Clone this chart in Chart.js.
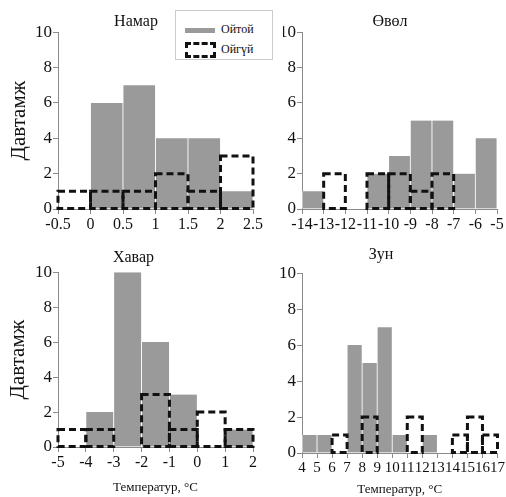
<!DOCTYPE html>
<html>
<head>
<meta charset="utf-8">
<script src="https://cdn.jsdelivr.net/npm/chart.js@4/dist/chart.umd.min.js"></script>
<style>
  body { margin: 0; background: #fff; }
  #wrap { position: relative; width: 506px; height: 497px; }
  #wrap canvas { position: absolute; left: 0; top: 0; }
  #legend {
    position: absolute; left: 175px; top: 10px; width: 96px; height: 48px;
    border: 1px solid #ccc; background: #fff; z-index: 5;
    font-family: "Liberation Serif", serif; font-size: 12px; color: #111;
  }
  #legend .row { position: absolute; left: 9px; height: 16px; line-height: 16px; white-space: nowrap; }
  #legend .sw1 { display: inline-block; width: 30px; height: 5px; background: #9a9a9a; vertical-align: middle; margin-right: 6px; }
  #legend .sw2 { display: inline-block; width: 25px; height: 10px; border: 3px dashed #111; vertical-align: middle; margin-right: 5px; }
</style>
</head>
<body>
<div id="wrap">
  <canvas id="autumn" width="506" height="497"></canvas>
  <canvas id="winter" width="506" height="497"></canvas>
  <canvas id="spring" width="506" height="497"></canvas>
  <canvas id="summer" width="506" height="497"></canvas>
  <div id="legend">
    <div class="row" style="top:10px"><span class="sw1"></span>Ойтой</div>
    <div class="row" style="top:30px"><span class="sw2"></span>Ойгүй</div>
  </div>
</div>
<script>
// lower bin edges, bin counts (Ойтой = gray, Ойгүй = dashed)
const autumnBins = [-0.5, 0, 0.5, 1, 1.5, 2];
const autumnForest = [0, 6, 7, 4, 4, 1];
const autumnOpen = [1, 1, 1, 2, 1, 3];
const autumnTicks = [-0.5, 0, 0.5, 1, 1.5, 2, 2.5];

const winterBins = [-14, -13, -12, -11, -10, -9, -8, -7, -6];
const winterForest = [1, 0, 0, 2, 3, 5, 5, 2, 4];
const winterOpen = [0, 2, 0, 2, 2, 1, 2, 0, 0];
const winterTicks = [-14, -13, -12, -11, -10, -9, -8, -7, -6, -5];

const springBins = [-5, -4, -3, -2, -1, 0, 1];
const springForest = [0, 2, 10, 6, 3, 0, 1];
const springOpen = [1, 1, 0, 3, 1, 2, 1];
const springTicks = [-5, -4, -3, -2, -1, 0, 1, 2];

const summerBins = [4, 5, 6, 7, 8, 9, 10, 11, 12, 13, 14, 15, 16];
const summerForest = [1, 1, 0, 6, 5, 7, 1, 0, 1, 0, 0, 0, 0];
const summerOpen = [0, 0, 1, 0, 2, 0, 0, 2, 0, 0, 1, 2, 1];
const summerTicks = [4, 5, 6, 7, 8, 9, 10, 11, 12, 13, 14, 15, 16, 17];

const yTicks = [0, 2, 4, 6, 8, 10];

const serif = '"Liberation Serif", serif';
const axisGray = '#8a8a8a';
const textColor = '#111';

// Chart.js bars can't have dashed borders, so stroke them here
const dashedBars = {
  id: 'dashedBars',
  afterDatasetsDraw(chart) {
    const ctx = chart.ctx;
    chart.data.datasets.forEach((ds, i) => {
      if (!ds.dashed) return;
      const meta = chart.getDatasetMeta(i);
      ctx.save();
      ctx.setLineDash([7, 4]);
      ctx.lineWidth = 3;
      ctx.strokeStyle = '#111';
      meta.data.forEach((bar, j) => {
        if (!ds.data[j].y) return;
        const p = bar.getProps(['x', 'y', 'base', 'width'], true);
        ctx.strokeRect(p.x - p.width / 2, p.y, p.width, p.base - p.y);
      });
      ctx.restore();
    });
  }
};

function histChart(id, p) {
  const w = p.bins[1] - p.bins[0];
  const centers = p.bins.map(b => b + w / 2);
  new Chart(document.getElementById(id), {
    type: 'bar',
    data: {
      datasets: [{
        label: 'Ойтой',
        data: centers.map((x, i) => ({x: x, y: p.forest[i]})),
        backgroundColor: '#9a9a9a',
        borderColor: '#fff',
        borderWidth: {left: 0.75, right: 0.75, top: 0, bottom: 0},
        grouped: false,
        barPercentage: 1,
        categoryPercentage: 1
      }, {
        label: 'Ойгүй',
        data: centers.map((x, i) => ({x: x, y: p.open[i]})),
        backgroundColor: 'rgba(0,0,0,0)',
        borderWidth: 0,
        grouped: false,
        barPercentage: 1,
        categoryPercentage: 1,
        dashed: true
      }]
    },
    options: {
      responsive: false,
      animation: false,
      layout: {padding: p.pad},
      plugins: {
        legend: {display: false},
        tooltip: {enabled: false},
        title: {
          display: true,
          text: p.title,
          color: textColor,
          font: {family: serif, size: 16, weight: 'normal'},
          padding: {top: 0, bottom: p.titleGap}
        }
      },
      scales: {
        x: {
          type: 'linear',
          min: p.ticks[0],
          max: p.ticks[p.ticks.length - 1],
          offset: false,
          afterBuildTicks: s => { s.ticks = p.ticks.map(v => ({value: v})); },
          afterFit: s => { s.height = p.xh; },
          ticks: {
            autoSkip: false, maxRotation: 0, minRotation: 0, padding: 1,
            color: textColor,
            font: {family: serif, size: p.xFont},
            callback: v => String(v)
          },
          grid: {drawOnChartArea: false, offset: false, tickLength: 5, color: axisGray},
          border: {color: axisGray},
          title: {
            display: p.xTitle,
            text: 'Температур, °C',
            color: textColor,
            font: {family: serif, size: 13},
            padding: {top: 0, bottom: 0}
          }
        },
        y: {
          min: 0,
          max: 10,
          afterBuildTicks: s => { s.ticks = yTicks.map(v => ({value: v})); },
          afterFit: s => { s.width = p.yw; },
          ticks: {padding: 1, color: textColor, font: {family: serif, size: 17}},
          grid: {drawOnChartArea: false, tickLength: 5, color: axisGray},
          border: {color: axisGray},
          title: {
            display: p.yTitle,
            text: 'Давтамж',
            color: textColor,
            font: {family: serif, size: 21, lineHeight: 1},
            padding: {top: p.yTitlePad, bottom: 0}
          }
        }
      }
    },
    plugins: [dashedBars]
  });
}

histChart('autumn', {
  title: 'Намар', bins: autumnBins, forest: autumnForest, open: autumnOpen, ticks: autumnTicks,
  pad: {left: 19, right: 253, top: 12, bottom: 258}, titleGap: 1, yw: 39, xh: 30,
  xFont: 16, xTitle: false, yTitle: true, yTitlePad: -10
});
histChart('winter', {
  title: 'Өвөл', bins: winterBins, forest: winterForest, open: winterOpen, ticks: winterTicks,
  pad: {left: 283, right: 9, top: 12, bottom: 258}, titleGap: 1, yw: 19, xh: 30,
  xFont: 16, xTitle: false, yTitle: false, yTitlePad: 0
});
histChart('spring', {
  title: 'Хавар', bins: springBins, forest: springForest, open: springOpen, ticks: springTicks,
  pad: {left: 14, right: 253, top: 248, bottom: 2}, titleGap: 5, yw: 44, xh: 48,
  xFont: 16, xTitle: true, yTitle: true, yTitlePad: -6
});
histChart('summer', {
  title: 'Зун', bins: summerBins, forest: summerForest, open: summerOpen, ticks: summerTicks,
  pad: {left: 263, right: 7, top: 245, bottom: 0}, titleGap: 9, yw: 39, xh: 44,
  xFont: 15, xTitle: true, yTitle: false, yTitlePad: 0
});
</script>
</body>
</html>
